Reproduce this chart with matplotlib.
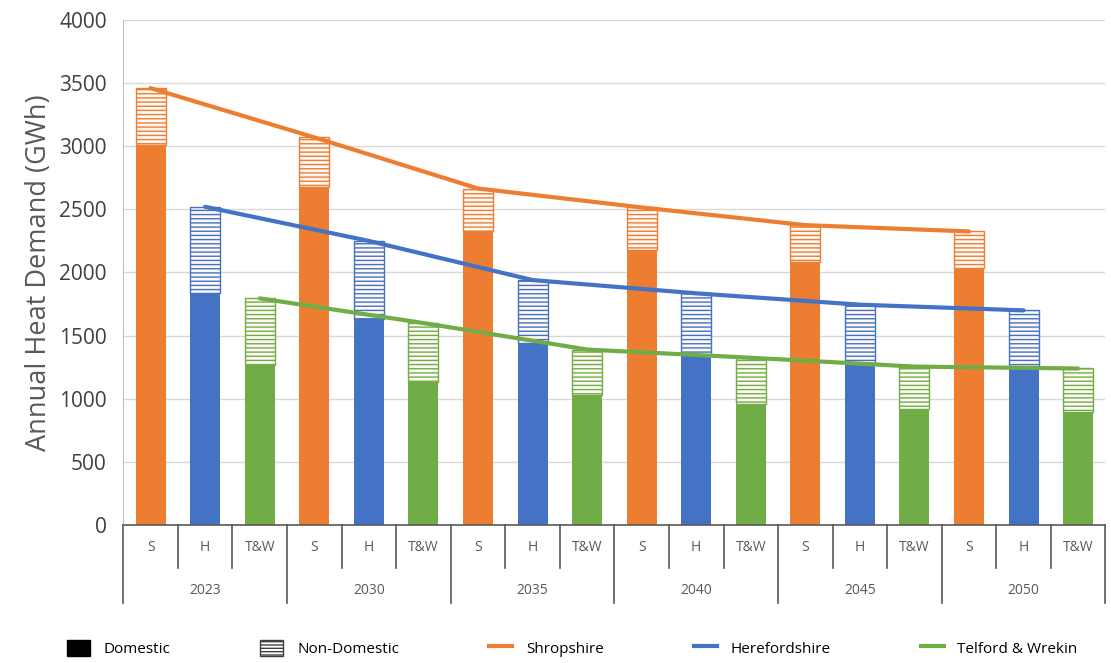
import matplotlib.pyplot as plt
from matplotlib.patches import Patch
from matplotlib.lines import Line2D
import numpy as np

plt.rcParams['font.family'] = ['Open Sans', 'DejaVu Sans']
plt.rcParams['hatch.linewidth'] = 1.0

years = ['2023', '2030', '2035', '2040', '2045', '2050']
areas = ['S', 'H', 'T&W']
area_names = ['Shropshire', 'Herefordshire', 'Telford & Wrekin']
colors = ['#ED7D31', '#4472C4', '#70AD47']

# totals per area and year (GWh)
total_s = [3460, 3070, 2665, 2515, 2375, 2325]
total_h = [2520, 2250, 1940, 1835, 1745, 1700]
total_tw = [1795, 1600, 1390, 1325, 1255, 1240]

# domestic share per area and year (GWh)
dom_s = [3010, 2680, 2325, 2180, 2085, 2035]
dom_h = [1840, 1635, 1445, 1350, 1285, 1245]
dom_tw = [1270, 1135, 1030, 955, 920, 895]

totals = [total_s, total_h, total_tw]
doms = [dom_s, dom_h, dom_tw]

fig = plt.figure(figsize=(11.11, 6.63), dpi=100)
ax = fig.add_axes([0.111, 0.208, 0.884, 0.762])

n_years = len(years)
n_areas = len(areas)
bar_w = 0.55

for a in range(n_areas):
    xs = np.arange(n_years) * n_areas + a
    dom = np.array(doms[a])
    nondom = np.array(totals[a]) - dom
    ax.bar(xs, dom, width=bar_w, color=colors[a], zorder=2)
    ax.bar(xs, nondom, bottom=dom, width=bar_w, facecolor='#fdf8f4',
           edgecolor=colors[a], hatch='----', linewidth=1.0, zorder=2)
    ax.plot(xs, totals[a], color=colors[a], lw=3, zorder=3, solid_capstyle='round')

ax.set_xlim(-0.5, n_years * n_areas - 0.5)
ax.set_ylim(0, 4000)
ax.set_yticks(np.arange(0, 4001, 500))
ax.tick_params(axis='y', labelsize=15, labelcolor='#404040', length=0, pad=12)
ax.set_xticks([])
ax.grid(axis='y', color='#d9d9d9', lw=1, zorder=0)
ax.set_axisbelow(True)
for s in ['top', 'right']:
    ax.spines[s].set_visible(False)
ax.spines['left'].set_color('#bfbfbf')
ax.spines['bottom'].set_color('#595959')
ax.spines['bottom'].set_linewidth(1.2)
ax.set_ylabel('Annual Heat Demand (GWh)', fontsize=19.5, color='#595959', labelpad=4)

# two-level category axis drawn under the plot
trans = ax.get_xaxis_transform()
for i in range(n_years * n_areas + 1):
    x = i - 0.5
    low = -0.155 if i % n_areas == 0 else -0.085
    ax.add_line(Line2D([x, x], [0, low], transform=trans, color='#595959',
                       lw=1.2, clip_on=False))
for i in range(n_years * n_areas):
    ax.text(i, -0.045, areas[i % n_areas], transform=trans, ha='center',
            va='center', fontsize=10, color='#595959')
for j, yr in enumerate(years):
    ax.text(j * n_areas + 1, -0.13, yr, transform=trans, ha='center',
            va='center', fontsize=10, color='#595959')

handles = [Patch(facecolor='black', edgecolor='black', label='Domestic'),
           Patch(facecolor='white', edgecolor='#404040', hatch='-----',
                 label='Non-Domestic')]
for c, name in zip(colors, area_names):
    handles.append(Line2D([], [], color=c, lw=3, label=name))
fig.legend(handles=handles, loc='lower center', ncol=5, frameon=False,
           fontsize=11, bbox_to_anchor=(0.515, -0.012), columnspacing=5.9,
           handlelength=1.5, handleheight=1.3, handletextpad=0.9)

fig.savefig('out.png', dpi=100)
